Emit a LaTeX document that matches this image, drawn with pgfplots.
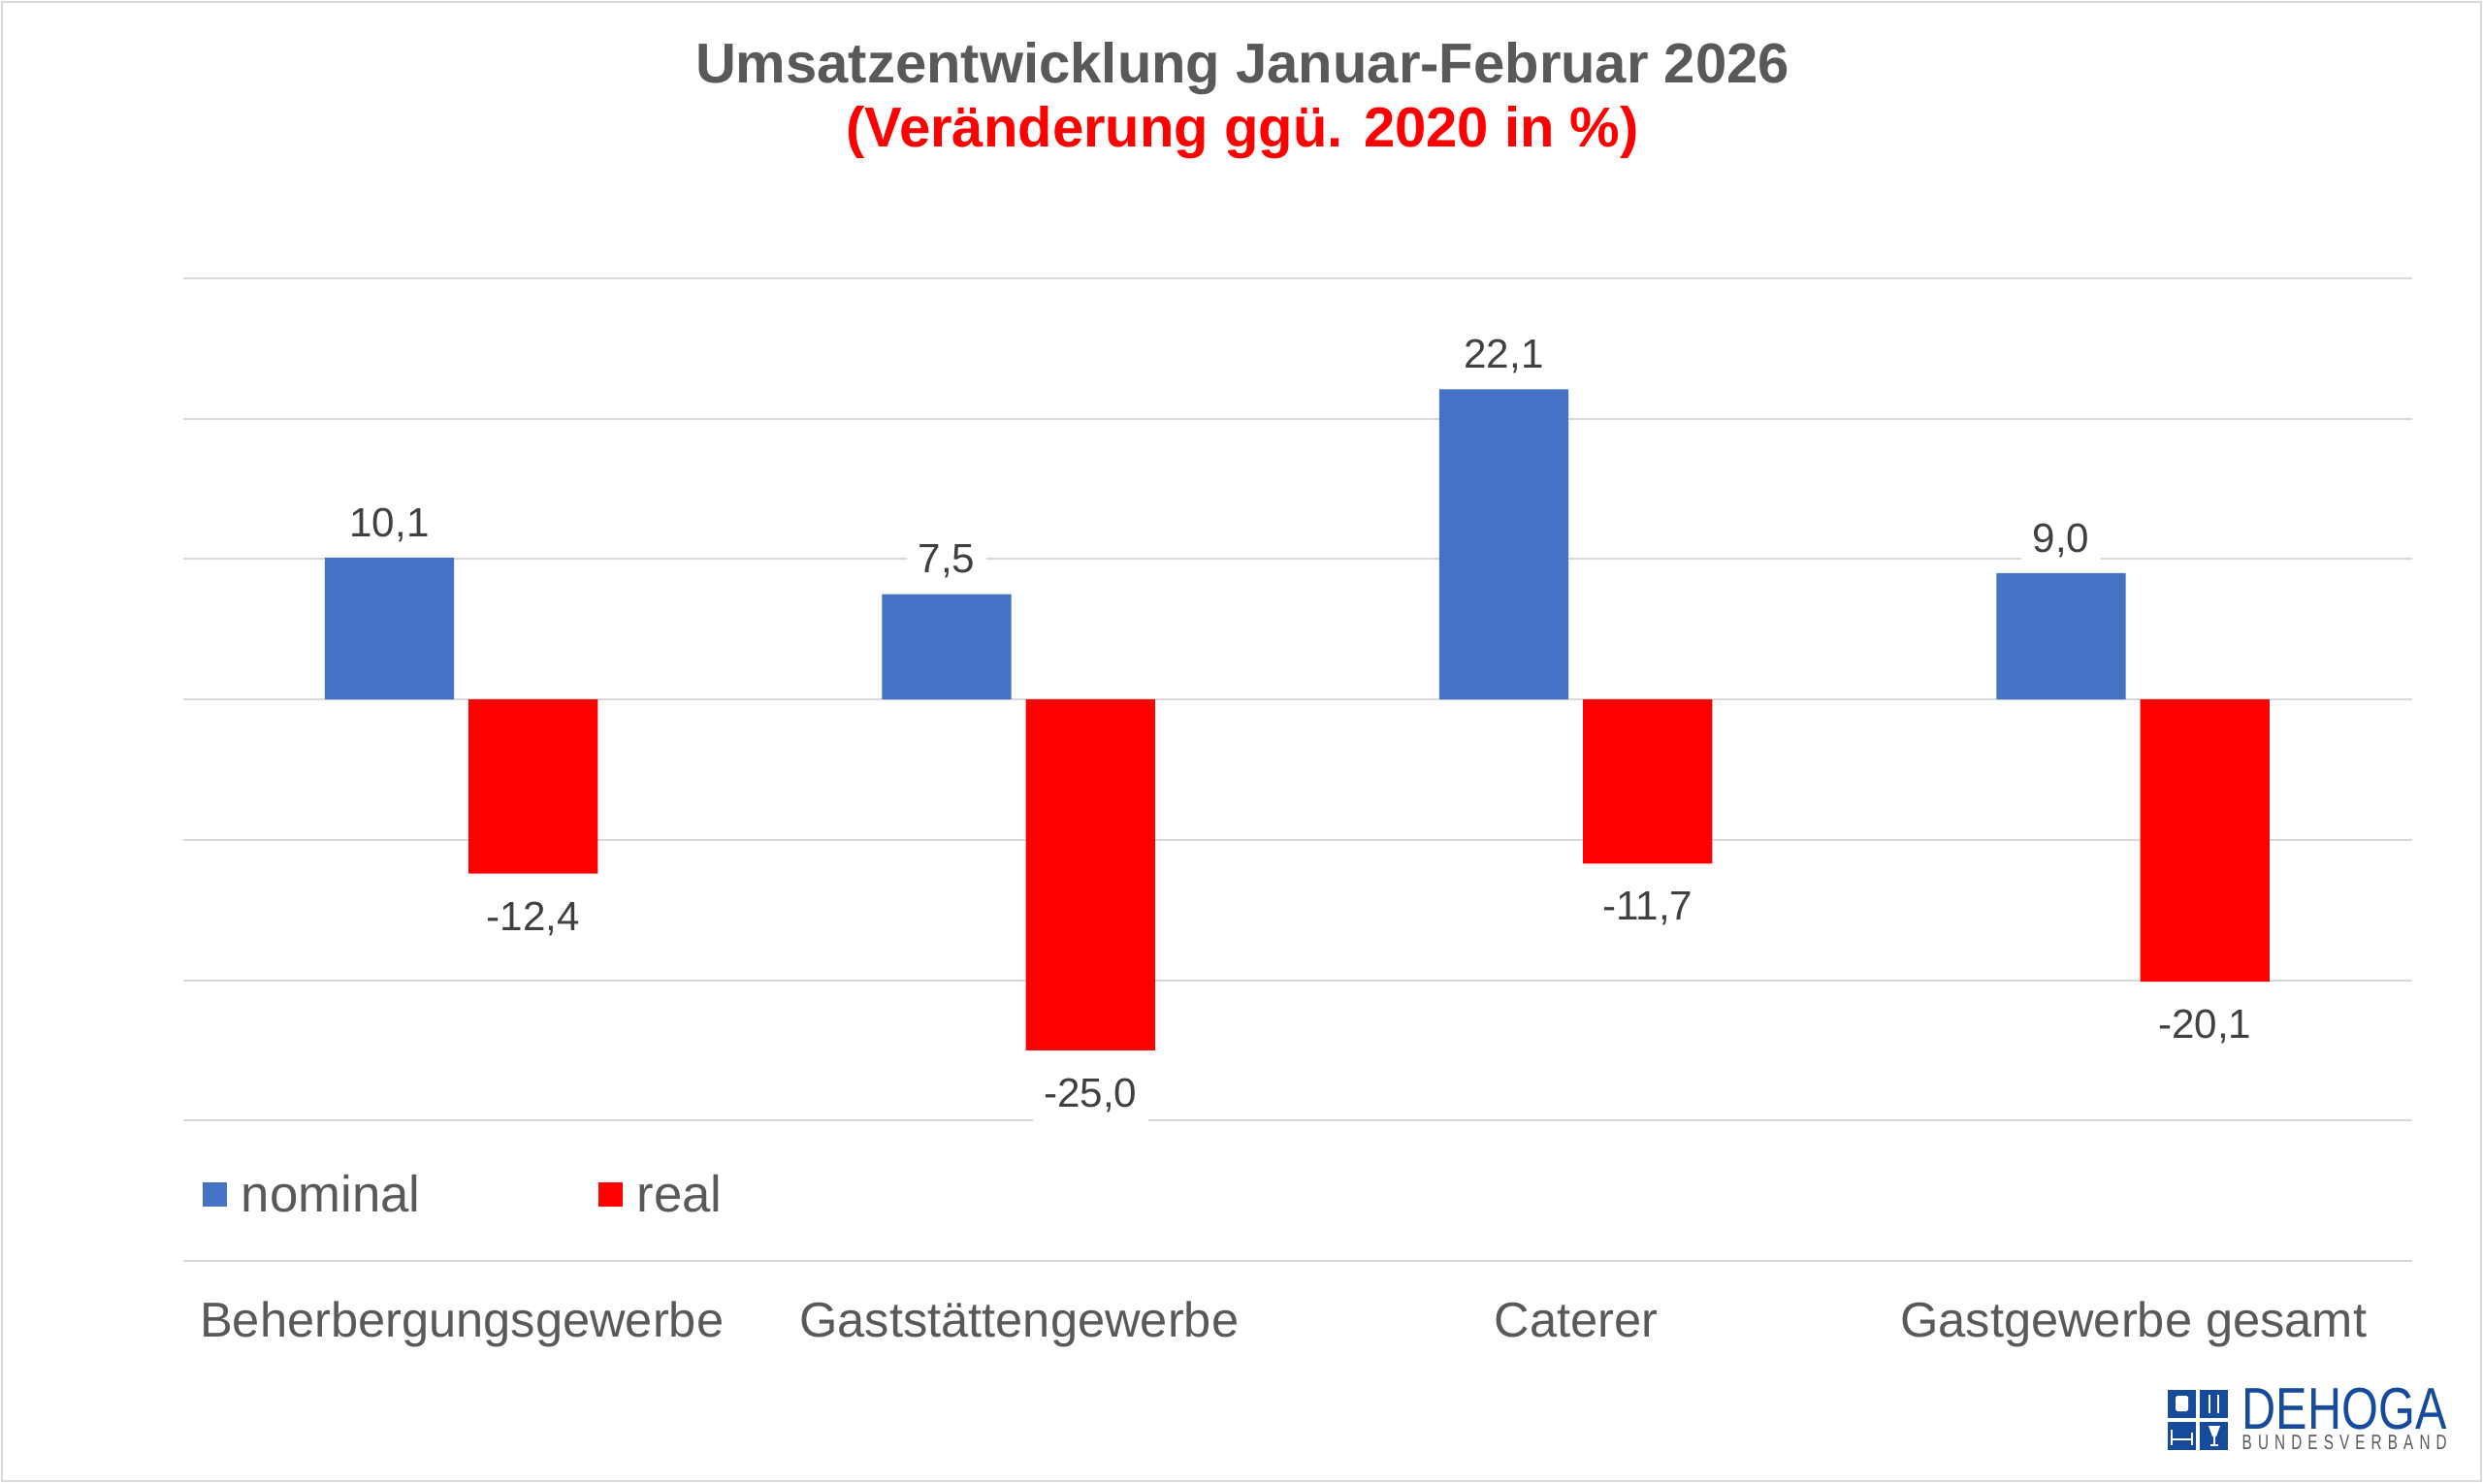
\documentclass[border=0pt]{standalone}
\usepackage{fontspec}
\setmainfont{Liberation Sans}
\usepackage{pgfplots}
\usepackage{pgfplotstable}
\usepackage{graphicx}
\pgfplotsset{compat=1.18}
\definecolor{titlegray}{HTML}{595959}
\definecolor{labgray}{HTML}{404040}
\definecolor{nomblue}{HTML}{4472C4}
\definecolor{realred}{HTML}{FF0000}
\definecolor{gridgray}{HTML}{D9D9D9}
\definecolor{dehoga}{RGB}{22,75,155}

\pgfplotstableread{
x nominal real
0 10.1 -12.4
1 7.5 -25.0
2 22.1 -11.7
3 9.0 -20.1
}\datatable

\begin{document}
\begin{tikzpicture}
\useasboundingbox (0,0) rectangle (25.6,15.29);
\fill[white] (0,0) rectangle (25.6,15.29);
\draw[gridgray, line width=0.6pt] (0.02,0.02) rectangle (25.58,15.27);
\begin{axis}[
  at={(1.89cm,2.29cm)}, anchor=south west,
  scale only axis, width=22.98cm, height=10.13cm,
  xmin=-0.5, xmax=3.5, ymin=-40, ymax=30,
  ytick={-40,-30,...,30}, yticklabel=\empty,
  xtick={0,1,2,3},
  xticklabels={Beherbergungsgewerbe, Gaststättengewerbe, Caterer, Gastgewerbe gesamt},
  xticklabel style={font=\fontsize{14.4}{16}\selectfont, text=titlegray, anchor=base, yshift=-0.78cm},
  major tick length=0pt,
  axis line style={draw=none},
  ymajorgrids, grid style={gridgray, line width=0.6pt},
  ybar, bar width=0.232,
  nodes near coords={\pgfmathprintnumber[fixed, fixed zerofill, precision=1, use comma, assume math mode=true]{\pgfplotspointmeta}},
  nodes near coords style={font=\fontsize{12}{14}\selectfont, text=labgray, fill=white},
  legend columns=2,
  legend style={draw=none, fill=none, inner sep=0pt, outer sep=0pt, at={(0.0087,0.0661)}, anchor=west, font=\fontsize{15}{18}\selectfont, text=titlegray, nodes={inner sep=0pt}, /tikz/every odd column/.append style={column sep=0.15cm}, /tikz/every even column/.append style={column sep=1.83cm}},
  legend image code/.code={\fill[#1] (0cm,-0.11cm) rectangle (0.25cm,0.14cm);},
]
\addplot[fill=nomblue, draw=none, bar shift=-0.13, nodes near coords style={yshift=0.04cm}] table[x=x, y=nominal] \datatable;
\addplot[fill=realred, draw=none, bar shift=0.128, nodes near coords style={yshift=-0.17cm}] table[x=x, y=real] \datatable;
\legend{nominal, real}
\end{axis}
\node[anchor=base, font=\fontsize{16.5}{20}\selectfont\bfseries, text=titlegray] at (12.81,14.43) {Umsatzentwicklung Januar-Februar 2026};
\node[anchor=base, font=\fontsize{16.5}{20}\selectfont\bfseries, text=realred] at (12.81,13.77) {(Veränderung ggü. 2020 in \%)};
% logo
\fill[dehoga] (22.35,0.67) rectangle (22.64,0.96);
\fill[dehoga] (22.68,0.67) rectangle (22.97,0.96);
\fill[dehoga] (22.35,0.34) rectangle (22.64,0.63);
\fill[dehoga] (22.68,0.34) rectangle (22.97,0.63);
\fill[white, rounded corners=0.5pt] (22.43,0.74) rectangle (22.56,0.9);
\draw[white, line width=0.6pt] (22.78,0.72) -- (22.78,0.91);
\draw[white, line width=0.8pt] (22.87,0.72) -- (22.87,0.91);
\draw[white, line width=0.5pt] (22.39,0.39) -- (22.39,0.55) (22.60,0.39) -- (22.60,0.52) (22.39,0.45) -- (22.60,0.45);
\fill[white] (22.77,0.59) -- (22.89,0.59) -- (22.85,0.48) -- (22.81,0.48) -- cycle;
\draw[white, line width=0.5pt] (22.83,0.48) -- (22.83,0.39) (22.79,0.39) -- (22.87,0.39);
\node[anchor=south west, inner sep=0pt, text=dehoga] at (23.11,0.545) {\resizebox*{2.11cm}{0.43cm}{DEHOGA}};
\node[anchor=south west, inner sep=0pt, text=titlegray] at (23.11,0.34) {\resizebox{2.11cm}{0.15cm}{\addfontfeature{LetterSpace=40}BUNDESVERBAND}};
\end{tikzpicture}
\end{document}
